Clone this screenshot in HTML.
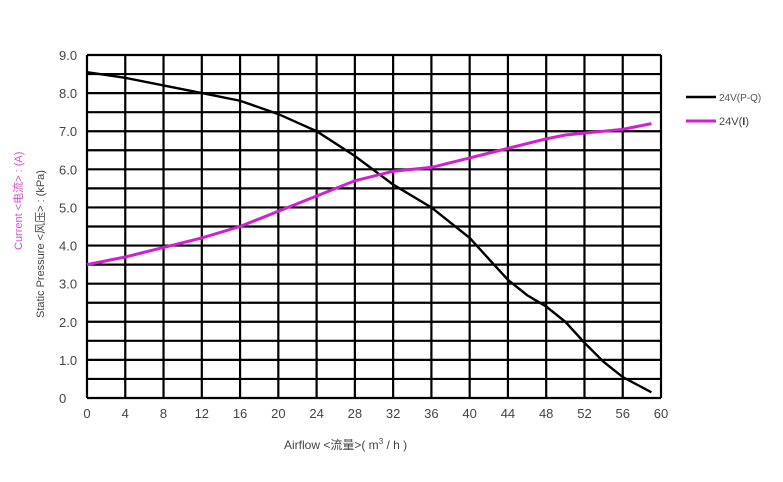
<!DOCTYPE html><html><head><meta charset="utf-8"><style>body{margin:0;background:#fff}svg{display:block}text{font-family:"Liberation Sans","Noto Sans CJK SC",sans-serif}</style></head><body>
<svg width="783" height="482" viewBox="0 0 783 482">
<g id="grid" stroke="#000" stroke-width="2.2" fill="none"></g>
<g id="lab" font-size="13" fill="#444"></g>
<polyline id="pq" fill="none" stroke="#000" stroke-width="2.4"/>
<polyline id="cur" fill="none" stroke="#d020d0" stroke-width="3"/>
<text x="12" y="0" font-size="11" fill="#d050d0" transform="translate(22,262) rotate(-90)">Current &lt;电流&gt; : (A)</text>
<text x="0" y="0" font-size="11" fill="#444" transform="translate(44,318) rotate(-90)">Static  Pressure  &lt;风压&gt; : (kPa)</text>
<text x="284" y="449" font-size="12" fill="#444">Airflow  &lt;流量&gt;( m<tspan font-size="8" dy="-5">3</tspan><tspan dy="5"> / h )</tspan></text>
<line x1="686" y1="97" x2="716" y2="97" stroke="#000" stroke-width="2.4"/>
<text x="719" y="101" font-size="10" fill="#555">24V(P-Q)</text>
<line x1="686" y1="121" x2="716" y2="121" stroke="#d020d0" stroke-width="3"/>
<text x="719" y="125" font-size="11" fill="#444">24V(<tspan font-weight="bold">I</tspan>)</text>
</svg>
<script>
var L=87,R=661,T=55,B=398,g=document.getElementById('grid'),lab=document.getElementById('lab'),ns='http://www.w3.org/2000/svg';
function X(v){return L+v*(R-L)/60}function Y(v){return B-v*(B-T)/9}
var s='';
for(var i=0;i<=15;i++){var x=X(i*4);s+='<line x1="'+x+'" y1="'+T+'" x2="'+x+'" y2="'+B+'"/>';}
for(var j=0;j<=18;j++){var y=Y(j*0.5);s+='<line x1="'+L+'" y1="'+y+'" x2="'+R+'" y2="'+y+'"/>';}
g.innerHTML=s;var t='';
for(var i=0;i<=15;i++)t+='<text x="'+X(i*4)+'" y="418" text-anchor="middle">'+(i*4)+'</text>';
for(var j=0;j<=9;j++)t+='<text x="59" y="'+(Y(j)+5)+'">'+(j?j+'.0':'0')+'</text>';
lab.innerHTML=t;
function pts(a){return a.map(function(p){return X(p[0])+','+Y(p[1])}).join(' ')}
document.getElementById('pq').setAttribute('points',pts([[0,8.55],[4,8.4],[8,8.2],[12,8.0],[16,7.8],[20,7.45],[24,7.0],[28,6.35],[32,5.6],[36,5.0],[40,4.2],[42,3.65],[44,3.1],[46,2.7],[48,2.4],[50,2.0],[52,1.45],[54,0.95],[56,0.55],[59,0.15]]));
document.getElementById('cur').setAttribute('points',pts([[0,3.5],[4,3.7],[8,3.95],[12,4.2],[16,4.5],[20,4.9],[24,5.3],[28,5.7],[32,5.95],[36,6.05],[40,6.3],[44,6.55],[48,6.8],[50,6.9],[56,7.05],[59,7.2]]));
</script>
</body></html>
